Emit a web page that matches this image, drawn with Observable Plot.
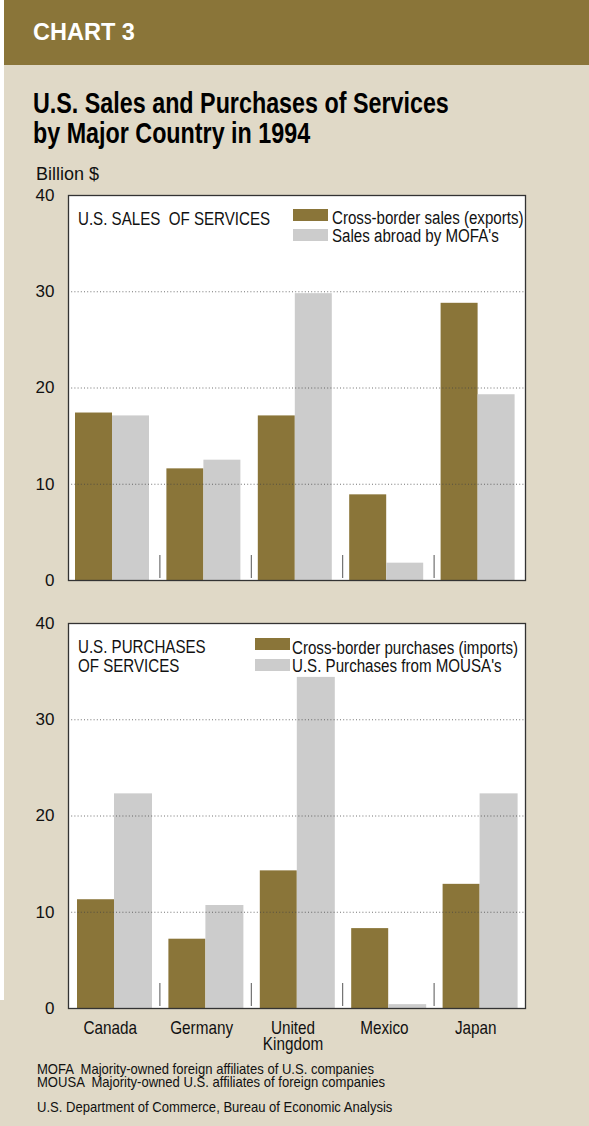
<!DOCTYPE html>
<html>
<head>
<meta charset="utf-8">
<script src="https://cdn.jsdelivr.net/npm/d3@7"></script>
<script src="https://cdn.jsdelivr.net/npm/@observablehq/plot@0.6"></script>
<style>
  html, body { margin: 0; padding: 0; background: #e0d9c7; }
  #root { position: relative; width: 589px; height: 1126px; background: #e0d9c7; overflow: hidden;
          font-family: "Liberation Sans", Arial, sans-serif; color: #111; }
  .abs { position: absolute; white-space: pre; line-height: 1; transform-origin: 0 0; }
  .n84 { transform: scaleX(0.84); font-size: 18px; line-height: 16px; }
  .n87 { transform: scaleX(0.87); font-size: 15px; line-height: 12px; }
  #strip { position: absolute; left: 0; top: 0; width: 4px; height: 1000px; background: #fff; }
  #header { position: absolute; left: 4px; top: 0; width: 585px; height: 65px; background: #8a7539; }
  .chart { position: absolute; left: 0; }
  .sw { position: absolute; width: 35px; height: 12px; }
</style>
</head>
<body>
<div id="root">
  <div id="strip"></div>
  <div id="header"></div>
  <div class="abs" id="chartno" style="left:33px;top:20.8px;font-size:23.5px;font-weight:bold;color:#fff;">CHART 3</div>
  <div class="abs" id="title" style="left:33px;top:88.3px;font-size:29.5px;line-height:30px;font-weight:bold;color:#000;transform:scaleX(0.79);"></div>
  <div class="abs" id="unit" style="left:36px;top:164.8px;font-size:18px;"></div>
  <div class="chart" id="top" style="top:180px;"></div>
  <div class="chart" id="bottom" style="top:610px;"></div>

  <div class="abs n84" id="t1" style="left:78px;top:210.8px;"></div>
  <div class="sw" id="s1a" style="left:293px;top:209px;"></div>
  <div class="sw" id="s1b" style="left:293px;top:229px;"></div>
  <div class="abs n84" id="l1a" style="left:332px;top:210.1px;"></div>
  <div class="abs n84" id="l1b" style="left:332px;top:227.5px;"></div>

  <div class="abs n84" id="t2a" style="left:78px;top:639.1px;"></div>
  <div class="abs n84" id="t2b" style="left:78px;top:657.5px;"></div>
  <div class="sw" id="s2a" style="left:255px;top:638px;"></div>
  <div class="sw" id="s2b" style="left:255px;top:659px;"></div>
  <div class="abs n84" id="l2a" style="left:292px;top:639.8px;"></div>
  <div class="abs n84" id="l2b" style="left:292px;top:657.5px;"></div>

  <div class="abs n87" id="n1" style="left:37px;top:1062.8px;"></div>
  <div class="abs n87" id="n2" style="left:37px;top:1075.5px;"></div>
  <div class="abs n87" id="src" style="left:37px;top:1100.8px;"></div>
</div>
<script>
// ---- Data (billion $, 1994) ----
const countries = ["Canada", "Germany", "United Kingdom", "Mexico", "Japan"];
const countryLabels = ["Canada", "Germany", "United\nKingdom", "Mexico", "Japan"];
const salesExports = [17.4, 11.6, 17.1, 8.9, 28.8];      // Cross-border sales (exports)
const salesMOFA = [17.1, 12.5, 29.8, 1.8, 19.3];         // Sales abroad by MOFA's
const purchImports = [11.3, 7.2, 14.3, 8.3, 12.9];       // Cross-border purchases (imports)
const purchMOUSA = [22.3, 10.7, 34.4, 0.4, 22.3];        // U.S. Purchases from MOUSA's
const yTicks = [0, 10, 20, 30, 40];
const gridTicks = [10, 20, 30];

const titleLines = ["U.S. Sales and Purchases of Services", "by Major Country in 1994"];
const unitLabel = "Billion $";
const topPanelTitle = "U.S. SALES  OF SERVICES";
const topLegend = ["Cross-border sales (exports)", "Sales abroad by MOFA's"];
const bottomPanelTitle = ["U.S. PURCHASES", "OF SERVICES"];
const bottomLegend = ["Cross-border purchases (imports)", "U.S. Purchases from MOUSA's"];
const notes = ["MOFA  Majority-owned foreign affiliates of U.S. companies",
               "MOUSA  Majority-owned U.S. affiliates of foreign companies"];
const source = "U.S. Department of Commerce, Bureau of Economic Analysis";

const BROWN = "#8a7539";
const GRAY = "#cccccc";
const SANS = '"Liberation Sans", Arial, sans-serif';

function panel({a, b, height, marginTop, marginBottom, insA, insB, showX}) {
  const rows = countries.map((c, i) => ({country: c, a: a[i], b: b[i]}));
  const W = 589, ML = 68, MR = 64;
  const bw = (W - ML - MR) / countries.length;
  const plotH = height - marginTop - marginBottom;
  const labelOf = new Map(countries.map((c, i) => [c, countryLabels[i]]));
  const svg = Plot.plot({
    width: W, height, marginLeft: ML, marginRight: MR, marginTop, marginBottom,
    style: {background: "transparent", fontFamily: SANS, color: "#111", overflow: "visible"},
    x: {domain: countries, padding: 0, round: false, axis: null},
    y: {domain: [0, 40], axis: null},
    marks: [
      Plot.frame({fill: "white"}),
      Plot.barY(rows, {x: "country", y: "a", fill: BROWN, insetLeft: insA[0], insetRight: bw - insA[1]}),
      Plot.barY(rows, {x: "country", y: "b", fill: GRAY, insetLeft: insB[0], insetRight: bw - insB[1]}),
      Plot.ruleY(gridTicks, {stroke: "#444", strokeDasharray: "1,2.2", strokeOpacity: 0.75}),
      Plot.ruleX(countries.slice(1), {x: d => d, dx: -bw / 2, insetTop: plotH - 25, insetBottom: 2, stroke: "#555", strokeWidth: 1}),
      Plot.frame({stroke: "#333", strokeWidth: 1.3}),
      Plot.axisY(yTicks, {tickSize: 0, tickPadding: 14, fontSize: 17, fontFamily: SANS, fill: "#111", label: null}),
      showX ? Plot.axisX({tickSize: 0, tickPadding: 15, fontSize: 18, fontFamily: SANS, lineHeight: 0.86,
                          dx: -4, fill: "#111", label: null, tickFormat: d => labelOf.get(d)}) : null
    ]
  });
  // condense the x tick labels horizontally (narrow face as in the original)
  d3.select(svg).selectAll('g[aria-label="x-axis tick label"] text').each(function () {
    const t = this.getAttribute("transform") || "";
    this.setAttribute("transform", t + " scale(0.85,1)");
  });
  return svg;
}

document.getElementById("top").append(panel({
  a: salesExports, b: salesMOFA, height: 420, marginTop: 15, marginBottom: 20,
  insA: [7, 44], insB: [44, 81], showX: false
}));
document.getElementById("bottom").append(panel({
  a: purchImports, b: purchMOUSA, height: 450, marginTop: 13, marginBottom: 52,
  insA: [9, 46], insB: [46, 84], showX: true
}));

document.getElementById("title").textContent = titleLines.join("\n");
document.getElementById("unit").textContent = unitLabel;
document.getElementById("t1").textContent = topPanelTitle;
document.getElementById("l1a").textContent = topLegend[0];
document.getElementById("l1b").textContent = topLegend[1];
document.getElementById("s1a").style.background = BROWN;
document.getElementById("s1b").style.background = GRAY;
document.getElementById("t2a").textContent = bottomPanelTitle[0];
document.getElementById("t2b").textContent = bottomPanelTitle[1];
document.getElementById("l2a").textContent = bottomLegend[0];
document.getElementById("l2b").textContent = bottomLegend[1];
document.getElementById("s2a").style.background = BROWN;
document.getElementById("s2b").style.background = GRAY;
document.getElementById("n1").textContent = notes[0];
document.getElementById("n2").textContent = notes[1];
document.getElementById("src").textContent = source;
</script>
</body>
</html>
